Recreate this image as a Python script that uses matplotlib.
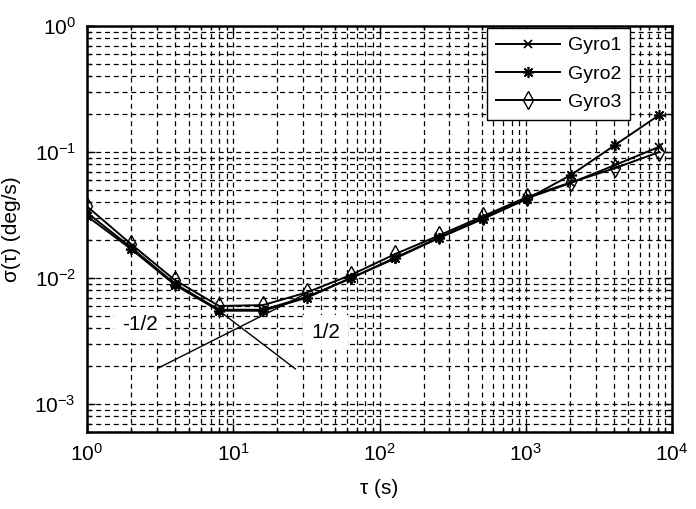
import matplotlib
matplotlib.use("Agg")
import matplotlib.pyplot as plt
from matplotlib.ticker import LogLocator, NullFormatter

plt.rcParams['font.family'] = ['Liberation Sans', 'DejaVu Sans']
plt.rcParams['mathtext.fontset'] = 'custom'
plt.rcParams['mathtext.rm'] = 'Liberation Sans'
plt.rcParams['mathtext.it'] = 'Liberation Sans:italic'
plt.rcParams['mathtext.default'] = 'regular'
plt.rcParams['axes.unicode_minus'] = False

tau = [1, 2, 4, 8, 16, 32, 64, 128, 256, 512, 1024, 2048, 4096, 8192]
gyro1 = [0.033, 0.0175, 0.0090, 0.0056, 0.0056, 0.0071, 0.0100, 0.0145, 0.0210, 0.0300, 0.0430, 0.0570, 0.079, 0.110]
gyro2 = [0.031, 0.0170, 0.0088, 0.0055, 0.0055, 0.0070, 0.0100, 0.0143, 0.0208, 0.0295, 0.0425, 0.0660, 0.114, 0.197]
gyro3 = [0.037, 0.0186, 0.0096, 0.0060, 0.0061, 0.0077, 0.0106, 0.0155, 0.0218, 0.0310, 0.0440, 0.0575, 0.0746, 0.100]

neg_x = [8, 26.6]
neg_y = [0.0055, 0.0019]
pos_x = [3.07, 32]
pos_y = [0.00193, 0.0076]

fig = plt.figure(figsize=(6.96, 5.09), dpi=100)
ax = fig.add_axes([87/696, 1-432/509, (672-87)/696, (432-26)/509])

ax.set_xscale('log')
ax.set_yscale('log')
ax.set_xlim(1, 1e4)
ax.set_ylim(6e-4, 1)

ax.grid(True, which='both', color='black', linestyle=(0, (4, 3)), linewidth=0.9)
ax.set_axisbelow(True)

ax.plot(tau, gyro1, color='black', lw=1.4, marker='x', ms=6, mew=1.2, label='Gyro1')
ax.plot(tau, gyro2, color='black', lw=1.4, marker=(8, 2, 0), ms=8, mew=1.2, label='Gyro2')
ax.plot(tau, gyro3, color='black', lw=1.4, marker='d', ms=9, mfc='none', mew=1.0, label='Gyro3')

ax.plot(neg_x, neg_y, color='black', lw=1.0)
ax.plot(pos_x, pos_y, color='black', lw=1.0)

ax.text(2.31, 0.00424, '-1/2', fontsize=15, ha='center', va='center',
        bbox=dict(facecolor='white', edgecolor='none', pad=6))
ax.text(42.7, 0.0037, '1/2', fontsize=15, ha='center', va='center',
        bbox=dict(facecolor='white', edgecolor='none', pad=6))

ax.xaxis.set_major_locator(LogLocator(base=10, numticks=10))
ax.yaxis.set_major_locator(LogLocator(base=10, numticks=10))
ax.xaxis.set_minor_formatter(NullFormatter())
ax.yaxis.set_minor_formatter(NullFormatter())
ax.tick_params(which='both', direction='in', top=True, right=True, labelsize=15, width=1.0)
ax.tick_params(which='major', length=6, pad=8)
ax.tick_params(which='minor', length=3)
for s in ax.spines.values():
    s.set_linewidth(1.8)

ax.set_xlabel('τ (s)', fontsize=15, labelpad=10)
ax.set_ylabel('σ(τ) (deg/s)', fontsize=15, labelpad=10)

leg = ax.legend(loc='upper right', bbox_to_anchor=((630-87)/585, 1-(28-26)/406),
                borderaxespad=0, fontsize=14, fancybox=False, framealpha=1,
                edgecolor='black', handlelength=3.3, handletextpad=0.4,
                labelspacing=0.55, borderpad=0.45)
leg.get_frame().set_linewidth(1.0)

fig.savefig('out.png', dpi=100)
